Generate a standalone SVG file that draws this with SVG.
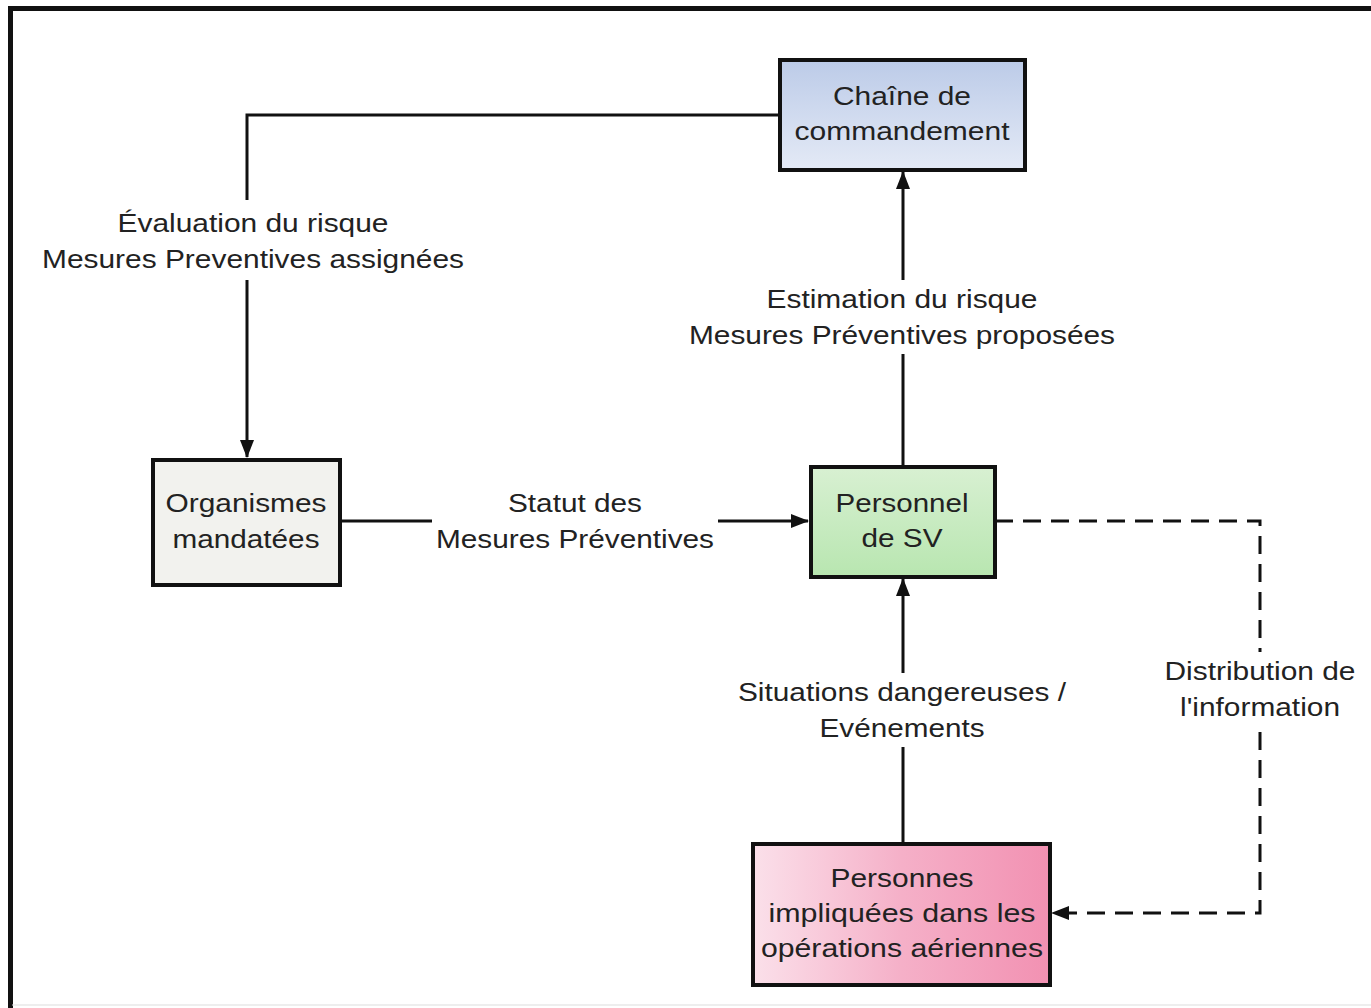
<svg xmlns="http://www.w3.org/2000/svg" width="1371" height="1008" viewBox="0 0 1371 1008">
<style>
.box{stroke:#111;stroke-width:4}
.t{font-family:"Liberation Sans",Arial,sans-serif;font-size:26px;fill:#222;text-anchor:middle}
.c{fill:none;stroke:#111;stroke-width:3}
.d{stroke-dasharray:18,10}
</style>
<defs>
<marker id="ah" markerWidth="18" markerHeight="14" refX="17" refY="7" orient="auto" markerUnits="userSpaceOnUse">
<path d="M0,0 L18,7 L0,14 Z" fill="#111"/>
</marker>
<linearGradient id="gb" x1="0" y1="0" x2="0" y2="1"><stop offset="0" stop-color="#bccbe8"/><stop offset="1" stop-color="#e4eaf6"/></linearGradient>
<linearGradient id="gg" x1="0" y1="0" x2="0" y2="1"><stop offset="0" stop-color="#d8f0d2"/><stop offset="1" stop-color="#b8e6b0"/></linearGradient>
<linearGradient id="gp" x1="0" y1="0" x2="1" y2="0"><stop offset="0" stop-color="#fbe0ea"/><stop offset="0.5" stop-color="#f5b0c8"/><stop offset="1" stop-color="#f291b2"/></linearGradient>
</defs>
<rect x="0" y="0" width="1371" height="1008" fill="#ffffff"/>
<path d="M10.5,1008 L10.5,8.5 L1371,8.5" fill="none" stroke="#111" stroke-width="5"/>
<line x1="12" y1="1005" x2="1371" y2="1005" stroke="#ddd" stroke-width="1"/>
<g id="connectors">
<path class="c" d="M779,115 L247,115 L247,457" marker-end="url(#ah)"/>
<path class="c" d="M340,521 L808,521" marker-end="url(#ah)"/>
<path class="c" d="M903,466 L903,172" marker-end="url(#ah)"/>
<path class="c" d="M903,843 L903,579" marker-end="url(#ah)"/>
<path class="c d" d="M995,521 L1260,521 L1260,913 L1052,913" marker-end="url(#ah)"/>
<rect x="36" y="200" width="434" height="80" fill="#fff"/>
<text class="t" x="253" y="232" textLength="271" lengthAdjust="spacingAndGlyphs">Évaluation du risque</text>
<text class="t" x="253" y="268" textLength="422" lengthAdjust="spacingAndGlyphs">Mesures Preventives assignées</text>
<rect x="432" y="484" width="286" height="74" fill="#fff"/>
<text class="t" x="575" y="512" textLength="134" lengthAdjust="spacingAndGlyphs">Statut des</text>
<text class="t" x="575" y="548" textLength="278" lengthAdjust="spacingAndGlyphs">Mesures Préventives</text>
<rect x="684" y="280" width="436" height="74" fill="#fff"/>
<text class="t" x="902" y="308" textLength="271" lengthAdjust="spacingAndGlyphs">Estimation du risque</text>
<text class="t" x="902" y="344" textLength="426" lengthAdjust="spacingAndGlyphs">Mesures Préventives proposées</text>
<rect x="734" y="673" width="336" height="74" fill="#fff"/>
<text class="t" x="902" y="701" textLength="328" lengthAdjust="spacingAndGlyphs">Situations dangereuses /</text>
<text class="t" x="902" y="737" textLength="165" lengthAdjust="spacingAndGlyphs">Evénements</text>
<rect x="1160" y="652" width="200" height="74" fill="#fff"/>
<text class="t" x="1260" y="680" textLength="191" lengthAdjust="spacingAndGlyphs">Distribution de</text>
<text class="t" x="1260" y="716" textLength="160" lengthAdjust="spacingAndGlyphs">l'information</text>
</g>
<g id="chaine">
<rect class="box" x="780" y="60" width="245" height="110" fill="url(#gb)"/>
<text class="t" x="902" y="105" textLength="138" lengthAdjust="spacingAndGlyphs">Chaîne de</text>
<text class="t" x="902" y="140" textLength="215" lengthAdjust="spacingAndGlyphs">commandement</text>
</g>
<g id="organismes">
<rect class="box" x="153" y="460" width="187" height="125" fill="#f2f2ee"/>
<text class="t" x="246" y="512" textLength="161" lengthAdjust="spacingAndGlyphs">Organismes</text>
<text class="t" x="246" y="548" textLength="147" lengthAdjust="spacingAndGlyphs">mandatées</text>
</g>
<g id="personnel">
<rect class="box" x="811" y="467" width="184" height="110" fill="url(#gg)"/>
<text class="t" x="902" y="512" textLength="133" lengthAdjust="spacingAndGlyphs">Personnel</text>
<text class="t" x="902" y="547" textLength="81" lengthAdjust="spacingAndGlyphs">de SV</text>
</g>
<g id="personnes">
<rect class="box" x="753" y="844" width="297" height="141" fill="url(#gp)"/>
<text class="t" x="902" y="887" textLength="143" lengthAdjust="spacingAndGlyphs">Personnes</text>
<text class="t" x="902" y="922" textLength="267" lengthAdjust="spacingAndGlyphs">impliquées dans les</text>
<text class="t" x="902" y="957" textLength="282" lengthAdjust="spacingAndGlyphs">opérations aériennes</text>
</g>
</svg>
